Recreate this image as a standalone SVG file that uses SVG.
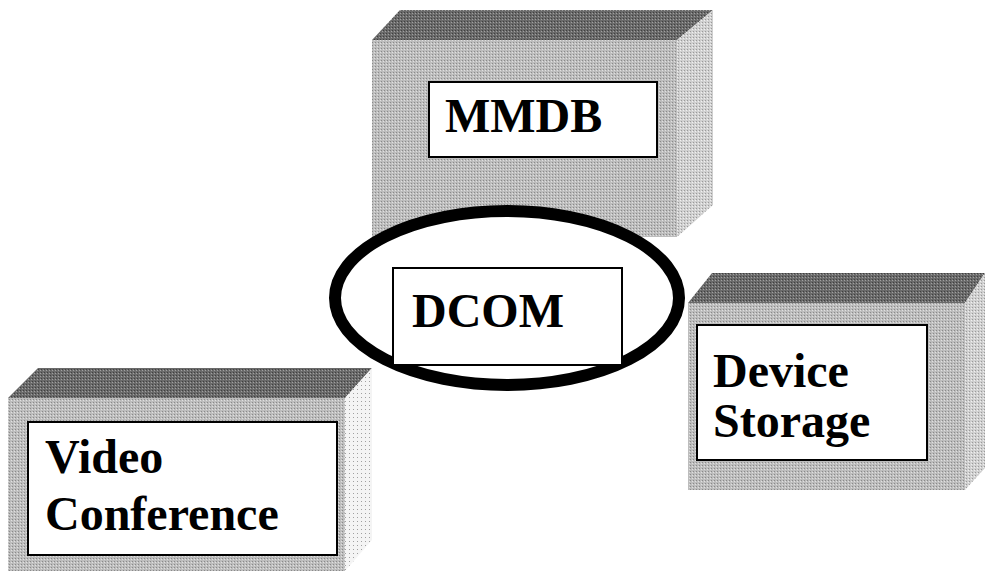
<svg xmlns="http://www.w3.org/2000/svg" width="985" height="571" viewBox="0 0 985 571">
<defs>
<pattern id="stip" width="3" height="3" patternUnits="userSpaceOnUse">
<rect width="3" height="3" fill="#bdbdbd"/>
<rect x="0" y="0" width="1" height="1" fill="#8a8a8a"/>
<rect x="2" y="1" width="1" height="1" fill="#e0e0e0"/>
</pattern>
<pattern id="stipTop" width="3" height="3" patternUnits="userSpaceOnUse">
<rect width="3" height="3" fill="#6a6a6a"/>
<rect x="1" y="1" width="1" height="1" fill="#a0a0a0"/>
<rect x="2" y="0" width="1" height="1" fill="#404040"/>
</pattern>
<pattern id="stipSide" width="3" height="3" patternUnits="userSpaceOnUse">
<rect width="3" height="3" fill="#d0d0d0"/>
<rect x="0" y="1" width="1" height="1" fill="#9a9a9a"/>
<rect x="2" y="2" width="1" height="1" fill="#f0f0f0"/>
</pattern>
<pattern id="stipLight" width="4" height="4" patternUnits="userSpaceOnUse">
<rect width="4" height="4" fill="#f4f4f4"/>
<rect x="1" y="1" width="1" height="1" fill="#a0a0a0"/>
</pattern>
</defs>
<style>
.front{fill:url(#stip);}
.top{fill:url(#stipTop);}
.side{fill:url(#stipSide);}
.sideLight{fill:url(#stipLight);}
.label{fill:#ffffff;stroke:#000000;stroke-width:2;}
.txt{font-family:"Liberation Serif","Times New Roman",serif;font-weight:bold;font-size:48px;fill:#000000;}
.ring{fill:#ffffff;stroke:#000000;stroke-width:12;}
</style>
<rect width="985" height="571" fill="#ffffff"/>

<g id="mmdb">
<polygon class="top" points="372,40 400,10 713,10 677,40"/>
<polygon class="side" points="677,40 713,10 713,205 677,237"/>
<rect class="front" x="372" y="40" width="305" height="197"/>
<rect class="label" x="429" y="82" width="228" height="75"/>
<text class="txt" x="445" y="132">MMDB</text>
</g>

<g id="video-conference">
<polygon class="top" points="8,398 38,368 372,368 345,398"/>
<polygon class="sideLight" points="345,398 372,368 372,540 345,571"/>
<rect class="front" x="8" y="398" width="337" height="173"/>
<rect class="label" x="28" y="422" width="309" height="133"/>
<text class="txt" x="45" y="473">Video</text>
<text class="txt" x="45" y="530">Conference</text>
</g>

<g id="device-storage">
<polygon class="top" points="688,303 712,273 985,273 965,303"/>
<polygon class="side" points="965,303 985,273 985,468 965,490"/>
<rect class="front" x="688" y="303" width="277" height="187"/>
<rect class="label" x="697" y="325" width="230" height="135"/>
<text class="txt" x="713" y="387">Device</text>
<text class="txt" x="713" y="437">Storage</text>
</g>

<g id="dcom">
<ellipse class="ring" cx="507" cy="298" rx="172" ry="87"/>
<rect class="label" x="393" y="268" width="229" height="97" stroke-width="1.5"/>
<text class="txt" x="412" y="327">DCOM</text>
</g>

<g id="connectors"></g>
</svg>
